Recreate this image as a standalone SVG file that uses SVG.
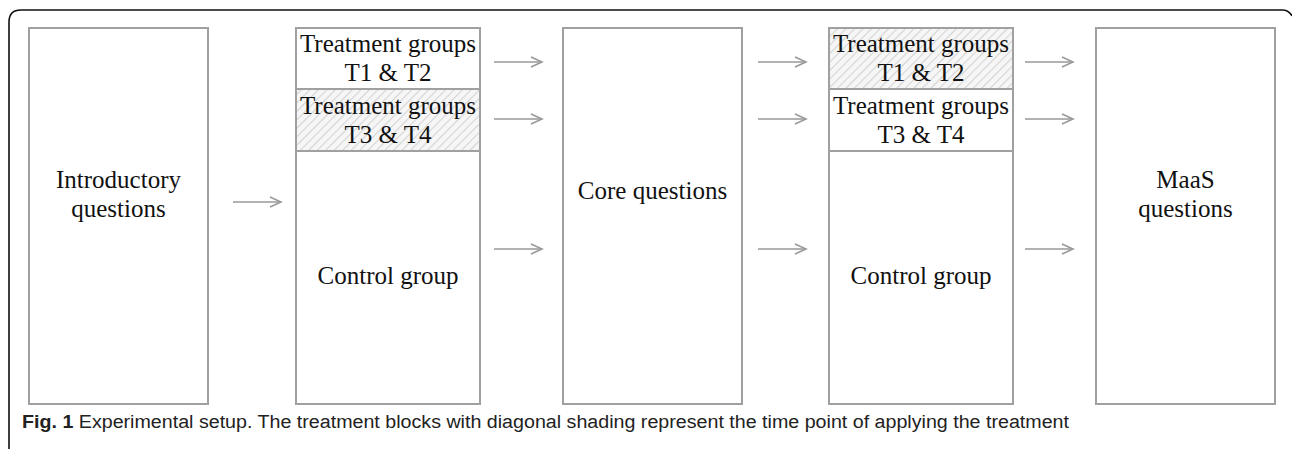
<svg xmlns="http://www.w3.org/2000/svg" width="1292" height="449" viewBox="0 0 1292 449">
<style>
.box{fill:#fff;stroke:#a0a0a0;stroke-width:2}
.hatch{fill:url(#hatch);stroke:#a0a0a0;stroke-width:2}
.lbl{font-family:"Liberation Serif","Times New Roman",serif;font-size:25px;fill:#111;text-anchor:middle}
.arr{stroke:#999;stroke-width:1.6;fill:none}
.cap{font-family:"Liberation Sans",Arial,sans-serif;font-size:18px;fill:#222}
</style>
<defs>
<pattern id="hatch" patternUnits="userSpaceOnUse" width="6" height="6" patternTransform="rotate(45)">
<rect width="6" height="6" fill="#f6f6f6"/>
<line x1="0" y1="0" x2="0" y2="6" stroke="#d4d4d4" stroke-width="2.2"/>
</pattern>
<marker id="ah" markerWidth="14" markerHeight="14" refX="12" refY="7" orient="auto" markerUnits="userSpaceOnUse">
<path d="M1,2 L12,7 L1,12" fill="none" stroke="#999" stroke-width="1.6"/>
</marker>
</defs>
<rect width="1292" height="449" fill="#fff"/>
<path d="M9,449 L9,22 Q9,10 21,10 L1282,10 Q1289,10 1292,16" fill="none" stroke="#111" stroke-width="1.6"/>

<g id="intro">
<rect class="box" x="29" y="28" width="179" height="376"/>
<text class="lbl" x="118.5" y="188">Introductory</text>
<text class="lbl" x="118.5" y="217">questions</text>
</g>

<g id="group1">
<rect class="box" x="296" y="28" width="184" height="376"/>
<rect class="box" x="296" y="28" width="184" height="61"/>
<rect class="hatch" x="296" y="89" width="184" height="62"/>
<text class="lbl" x="388" y="52">Treatment groups</text>
<text class="lbl" x="388" y="81">T1 &amp; T2</text>
<text class="lbl" x="388" y="114">Treatment groups</text>
<text class="lbl" x="388" y="143">T3 &amp; T4</text>
<text class="lbl" x="388" y="284">Control group</text>
</g>

<g id="core">
<rect class="box" x="563" y="28" width="179" height="376"/>
<text class="lbl" x="652.5" y="199">Core questions</text>
</g>

<g id="group2">
<rect class="box" x="829" y="28" width="184" height="376"/>
<rect class="hatch" x="829" y="28" width="184" height="61"/>
<rect class="box" x="829" y="89" width="184" height="62"/>
<text class="lbl" x="921" y="52">Treatment groups</text>
<text class="lbl" x="921" y="81">T1 &amp; T2</text>
<text class="lbl" x="921" y="114">Treatment groups</text>
<text class="lbl" x="921" y="143">T3 &amp; T4</text>
<text class="lbl" x="921" y="284">Control group</text>
</g>

<g id="maas">
<rect class="box" x="1096" y="28" width="179" height="376"/>
<text class="lbl" x="1185.5" y="188">MaaS</text>
<text class="lbl" x="1185.5" y="217">questions</text>
</g>

<g id="connectors">
<line class="arr" x1="233" y1="202" x2="281" y2="202" marker-end="url(#ah)"/>
<line class="arr" x1="494" y1="62" x2="542" y2="62" marker-end="url(#ah)"/>
<line class="arr" x1="494" y1="119" x2="542" y2="119" marker-end="url(#ah)"/>
<line class="arr" x1="494" y1="249" x2="542" y2="249" marker-end="url(#ah)"/>
<line class="arr" x1="758" y1="62" x2="806" y2="62" marker-end="url(#ah)"/>
<line class="arr" x1="758" y1="119" x2="806" y2="119" marker-end="url(#ah)"/>
<line class="arr" x1="758" y1="249" x2="806" y2="249" marker-end="url(#ah)"/>
<line class="arr" x1="1025" y1="62" x2="1073" y2="62" marker-end="url(#ah)"/>
<line class="arr" x1="1025" y1="119" x2="1073" y2="119" marker-end="url(#ah)"/>
<line class="arr" x1="1025" y1="249" x2="1073" y2="249" marker-end="url(#ah)"/>
</g>

<text class="cap" x="22" y="428" textLength="1047" lengthAdjust="spacingAndGlyphs"><tspan font-weight="bold">Fig. 1</tspan> Experimental setup. The treatment blocks with diagonal shading represent the time point of applying the treatment</text>
</svg>
